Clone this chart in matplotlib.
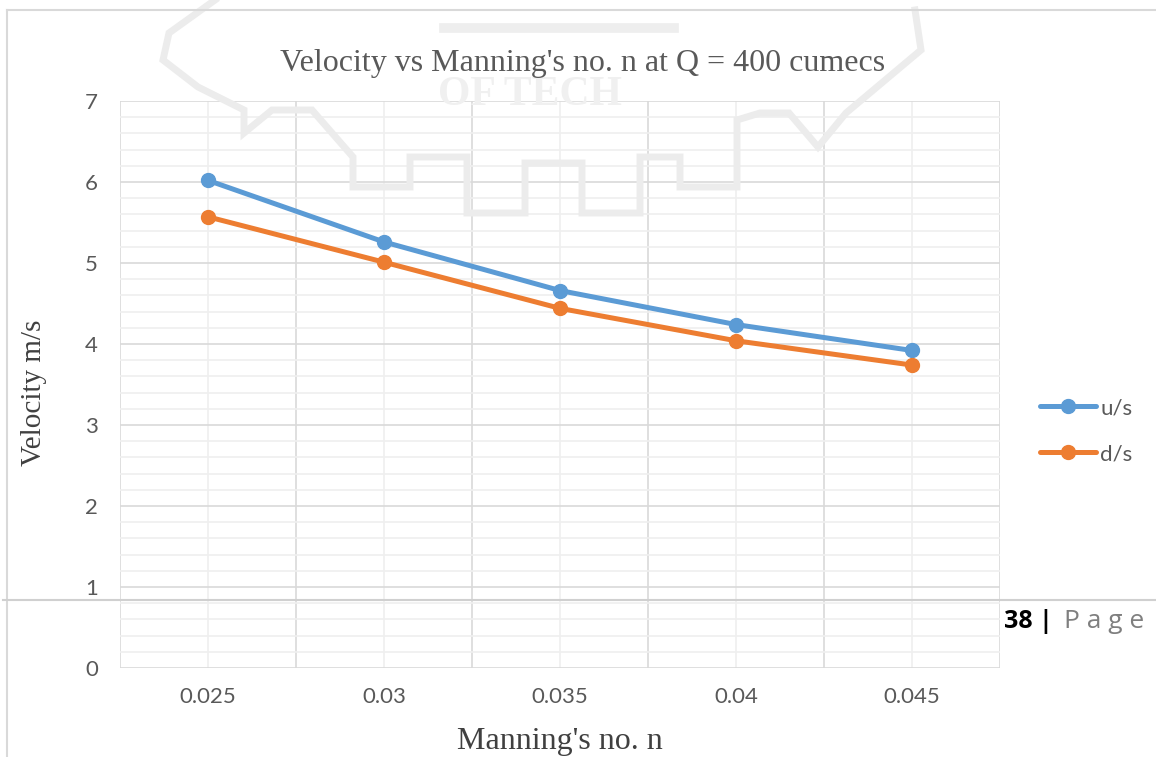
import numpy as np
import matplotlib
matplotlib.use("Agg")
import matplotlib.pyplot as plt
from matplotlib.lines import Line2D
from matplotlib.ticker import MultipleLocator, FixedLocator

# Manning's roughness values and section velocities (m/s)
manning_n = ["0.025", "0.03", "0.035", "0.04", "0.045"]
vel_us = [6.02, 5.26, 4.66, 4.24, 3.92]
vel_ds = [5.57, 5.01, 4.44, 4.04, 3.74]

W, H = 1156, 757
BLUE = "#5B9BD5"
ORANGE = "#ED7D31"
SANS = ["Lato", "DejaVu Sans"]
SERIF = ["Liberation Serif", "DejaVu Serif"]


def fx(px):
    return px / W


def fy(py):
    return 1 - py / H


fig = plt.figure(figsize=(W / 100, H / 100), dpi=100)
fig.patch.set_facecolor("white")

ax = fig.add_axes([fx(120), fy(668), fx(1000) - fx(120), fy(101) - fy(668)])
x = np.arange(len(manning_n))

# faint college-crest watermark sitting behind the chart
crest = [(215, 0), (169, 33), (163, 60), (198, 87), (244, 110), (244, 133),
         (272, 110), (312, 110), (353, 157), (353, 187), (410, 187), (410, 157),
         (467, 157), (467, 213), (525, 213), (525, 163), (582, 163), (582, 213),
         (640, 213), (640, 157), (680, 157), (680, 187), (737, 187), (737, 120),
         (760, 113), (789, 113), (818, 147), (846, 113), (921, 50), (915, 10)]
cx, cy = zip(*crest)
ax.add_line(Line2D([fx(v) for v in cx], [fy(v) for v in cy], transform=fig.transFigure,
                   color="#ececec", lw=5, solid_joinstyle="miter", clip_on=False, zorder=1))
ax.add_line(Line2D([fx(444), fx(674)], [fy(28), fy(28)], transform=fig.transFigure,
                   color="#eeeeee", lw=7, clip_on=False, zorder=1))
ax.text(fx(530), fy(95), "OF TECH", transform=fig.transFigure, family=SERIF,
        fontsize=30, weight="bold", color="#f0f0f0", ha="center", va="center", zorder=1)

ax.plot(x, vel_us, color=BLUE, lw=3.6, marker="o", ms=10, label="u/s",
        solid_capstyle="round", zorder=4)
ax.plot(x, vel_ds, color=ORANGE, lw=3.6, marker="o", ms=10, label="d/s",
        solid_capstyle="round", zorder=4)

ax.set_xlim(-0.5, len(manning_n) - 0.5)
ax.set_ylim(0, 7)

# category boundaries are the major x grid, category centres the minor one
ax.xaxis.set_major_locator(FixedLocator(np.arange(-0.5, len(manning_n), 1.0)))
ax.yaxis.set_major_locator(MultipleLocator(1))
ax.yaxis.set_minor_locator(MultipleLocator(0.2))
ax.set_xticks(x, manning_n, minor=True)
ax.set_xticklabels([""] * len(ax.get_xticks()))
ax.grid(which="major", color="#d9d9d9", lw=1.2, zorder=0)
ax.grid(which="minor", color="#efefef", lw=1.2, zorder=0)
ax.set_axisbelow(True)

ax.tick_params(which="both", length=0)
ax.tick_params(axis="x", which="minor", pad=14, labelsize=16, labelcolor="#595959")
ax.tick_params(axis="y", pad=16, labelsize=16, labelcolor="#595959")
for lab in ax.get_xticklabels(minor=True) + ax.get_yticklabels():
    lab.set_family(SANS)
for s in ax.spines.values():
    s.set_visible(False)

fig.text(fx(583), fy(64), "Velocity vs Manning's no. n at Q = 400 cumecs",
         family=SERIF, fontsize=23, color="#595959", ha="center", va="center")
fig.text(fx(34), fy(393), "Velocity m/s", family=SERIF, fontsize=21,
         color="#404040", rotation=90, ha="center", va="center")
fig.text(fx(560), fy(741), "Manning's no. n", family=SERIF, fontsize=23,
         color="#404040", ha="center", va="center")

leg = ax.legend(loc="center left", bbox_to_anchor=(fx(1040), fy(431)),
                bbox_transform=fig.transFigure, frameon=False,
                prop={"family": SANS, "size": 16}, borderpad=0, borderaxespad=0,
                handlelength=2.5, handletextpad=0.2, labelspacing=1.17)
for t in leg.get_texts():
    t.set_color("#595959")

# chart frame and page footer rule
fig.add_artist(Line2D([fx(7), fx(7)], [fy(10), fy(757)], color="#d9d9d9", lw=1.5))
fig.add_artist(Line2D([fx(7), fx(1156)], [fy(10), fy(10)], color="#d9d9d9", lw=1.5))
fig.add_artist(Line2D([fx(3), fx(1156)], [fy(600), fy(600)], color="#d0d0d0", lw=1.5,
                      zorder=5))

fig.text(fx(1004), fy(622), "38 |", family=["Open Sans", "DejaVu Sans"], fontsize=18,
         weight="bold", color="black", ha="left", va="center")
fig.text(fx(1064), fy(622), "P a g e", family=["Open Sans", "DejaVu Sans"], fontsize=19,
         color="#7f7f7f", ha="left", va="center")

fig.savefig("out.png", dpi=100, facecolor="white")
